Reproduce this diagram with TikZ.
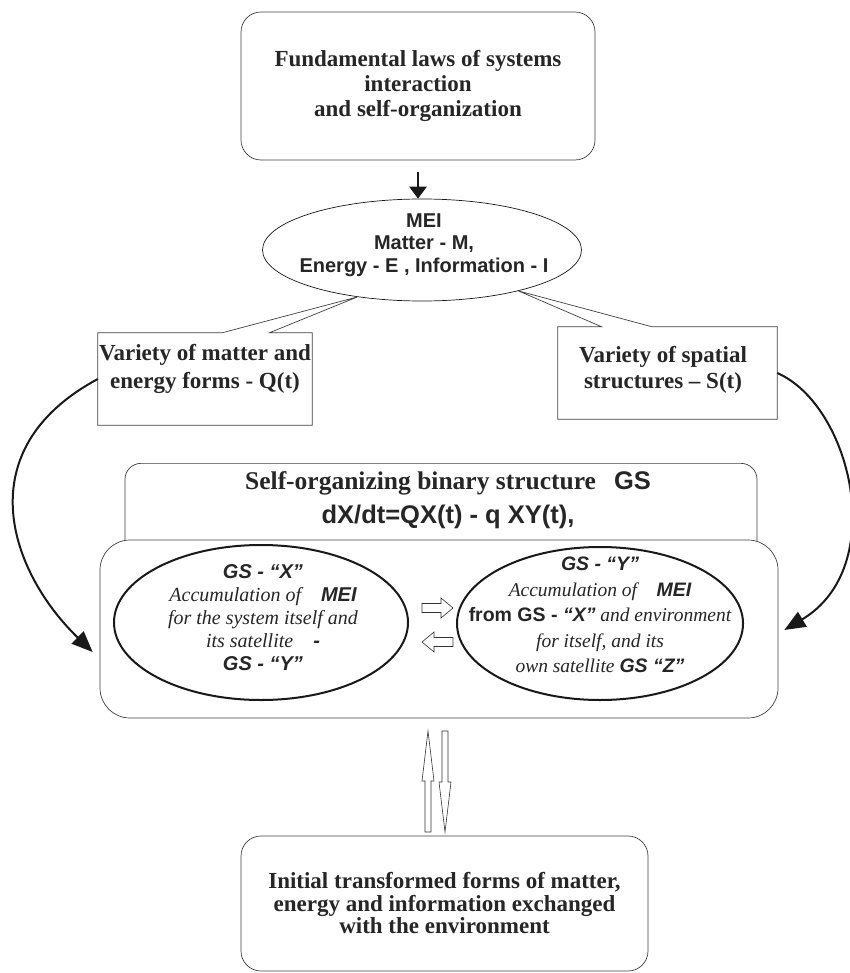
\documentclass[tikz,border=0pt]{standalone}
\usepackage{fontspec}
\setmainfont{Liberation Serif}
\setsansfont{Liberation Sans}
\usepackage{tikz}
\usetikzlibrary{positioning,calc,shapes.geometric,arrows.meta}
\newcommand{\boldsans}[1]{{\sffamily\bfseries #1}}

\begin{document}
\begin{tikzpicture}[x=1pt,y=-1pt,
		roundbox/.style={draw=black!75, line width=0.7pt, fill=white},
		lawtext/.style={font=\fontsize{23}{25}\selectfont\bfseries, text=black!85, align=center, inner sep=0pt},
		meitext/.style={font=\fontsize{20}{22.5}\selectfont\sffamily\bfseries, text=black!85, align=center, inner sep=0pt},
		elltext/.style={font=\fontsize{20}{23}\selectfont\itshape, text=black!85, align=center, inner sep=0pt},
		thickell/.style={ellipse, draw=black!90, line width=2pt, inner sep=0pt},
		callout/.style={draw=black!75, line width=0.7pt},
		bendarrow/.style={line width=2pt, draw=black!90, -{Triangle[length=21pt,width=17pt]}},
		hollowh/.pic={\draw[line width=0.6pt, black!80] (0,-4.5) -- (19,-4.5) -- (19,-10) -- (31,0) -- (19,10) -- (19,4.5) -- (0,4.5) -- cycle;},
		hollowv/.pic={\draw[line width=0.6pt, black!80] (0,-3) -- (51,-3) -- (51,-6) -- (101,0) -- (51,6) -- (51,3) -- (0,3) -- cycle;}
	]
	\useasboundingbox (0,0) rectangle (850,973);

	%% 顶部方框
	\node[roundbox, rounded corners=20pt, minimum width=354pt, minimum height=148pt, lawtext] (laws) at (418,86)
		{Fundamental laws of systems\\ interaction\\ and self-organization};

	%% MEI 椭圆
	\node[ellipse, draw=black!90, line width=0.7pt, fill=white, minimum width=319pt, minimum height=102pt, inner sep=0pt] (mei) at (422,250) {};
	\node[meitext] (meitext) at (424,245) {MEI\\ Matter - M,\hspace*{46pt}\\ Energy - E , Information - I};
	\draw[line width=2.8pt, draw=black!90, -{Triangle[length=12pt,width=17pt]}] ($(laws.south)+(0,12)$) -- (laws.south |- mei.north);

	%% 左右两个标注框
	\node[minimum width=214pt, minimum height=92pt, inner sep=0pt] (qbox) at (205,379) {};
	\node[lawtext, font=\fontsize{23}{28}\selectfont\bfseries] (qtext) at (205,369) {Variety of matter and\\ energy forms - Q(t)};
	\draw[callout] (qbox.north west) -- ($(qbox.north west)!0.58!(qbox.north east)$) -- (mei.216)
		-- ($(qbox.north west)!0.8!(qbox.north east)$) -- (qbox.north east) -- (qbox.south east) -- (qbox.south west) -- cycle;

	\node[minimum width=219pt, minimum height=92pt, inner sep=0pt] (sbox) at (667.5,373) {};
	\node[lawtext, font=\fontsize{23}{26}\selectfont\bfseries] (stext) at (663,369.5) {Variety of spatial\\ structures -- S(t)};
	\draw[callout] (sbox.north west) -- ($(sbox.north west)!0.2!(sbox.north east)$) -- (mei.-23)
		-- ($(sbox.north west)!0.43!(sbox.north east)$) -- (sbox.north east) -- (sbox.south east) -- (sbox.south west) -- cycle;

	%% GS 结构
	\node[roundbox, rounded corners=16pt, minimum width=632pt, minimum height=150pt, anchor=north] (gsbox) at (441,463) {};
	\node[font=\fontsize{25.5}{34}\selectfont, text=black!85, align=center, inner sep=0pt] (gstitle) at (448,500)
		{\bfseries Self-organizing binary structure\hspace{18pt}\boldsans{GS}\\ \boldsans{dX/dt=QX(t) - q XY(t),}};
	\node[roundbox, rounded corners=30pt, minimum width=678pt, minimum height=178pt] (inner) at (439,629) {};

	\node[thickell, minimum width=294pt, minimum height=155pt] (gsx) at (261,622.5) {};
	\node[elltext] (gsxtext) at (263,618)
		{\boldsans{GS - “X”}\\ Accumulation of\quad\boldsans{MEI}\\ for the system itself and\\ its satellite\quad\boldsans{-}\\ \boldsans{GS - “Y”}};
	\node[thickell, minimum width=286pt, minimum height=153pt] (gsy) at (600,623.5) {};
	\node[elltext, font=\fontsize{19.5}{25.5}\selectfont\itshape] (gsytext) at (600,615)
		{\boldsans{GS - “Y”}\\ Accumulation of\quad\boldsans{MEI}\\ \boldsans{\upshape from\ GS - \textit{“X”}} and environment\\ for itself, and its\\ own satellite \boldsans{GS “Z”}};

	% 空心箭头
	\pic at (422,608) {hollowh};
	\pic[rotate=180] at (453,642) {hollowh};
	\pic[rotate=90] at (428,832) {hollowv};
	\pic[rotate=-90] at (445,731) {hollowv};

	%% 底部方框
	\node[roundbox, rounded corners=20pt, minimum width=407pt, minimum height=135pt, lawtext, font=\fontsize{23}{22.5}\selectfont\bfseries] (initial) at (444.5,903.5)
		{Initial transformed forms of matter,\\ energy and information exchanged\\ with the environment};

	% 弯曲箭头
	\draw[bendarrow] (qbox.west) .. controls (-34,450) and (10,572) .. ($(inner.west)+(-7,23)$);
	\draw[bendarrow] (sbox.east) .. controls (851,405) and (890,567) .. ($(inner.east)+(6,1)$);
\end{tikzpicture}
\end{document}
